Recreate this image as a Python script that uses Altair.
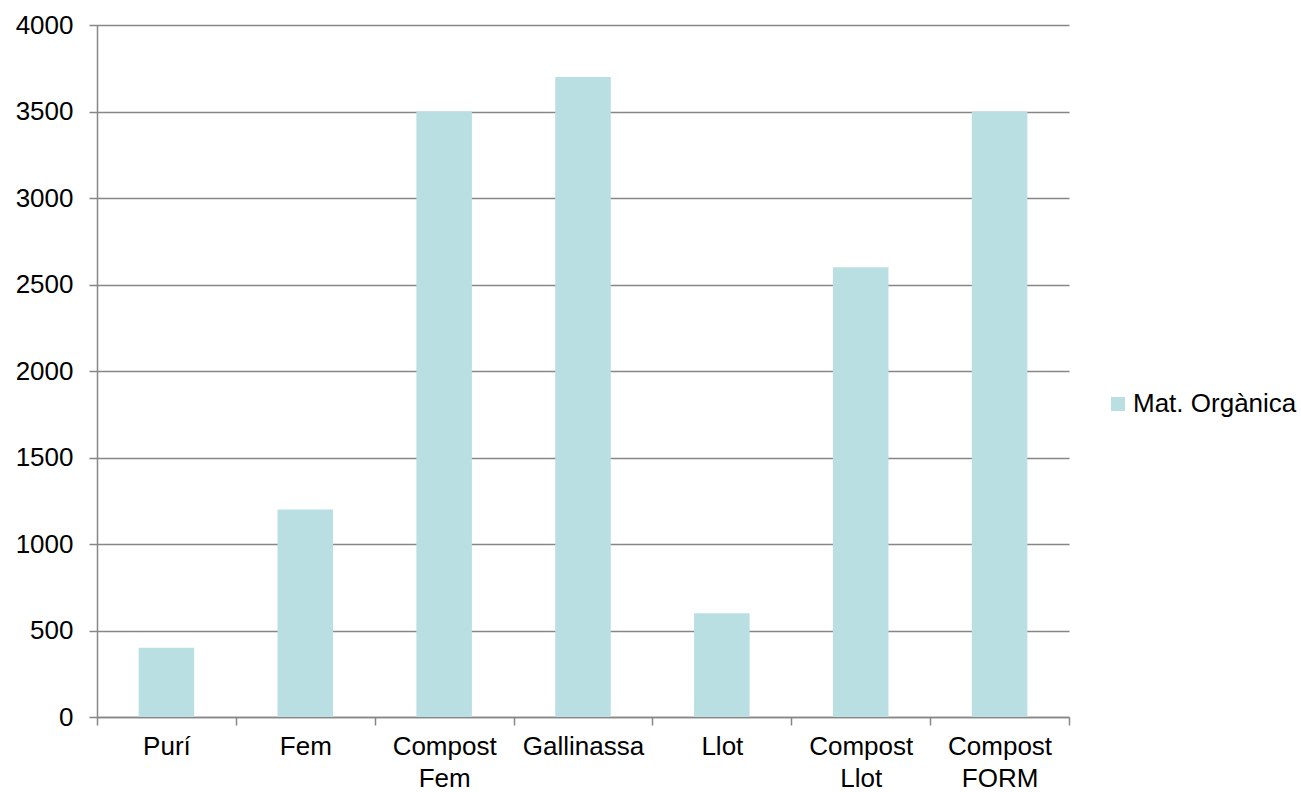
import altair as alt
import pandas as pd

categories = ["Purí", "Fem", "Compost Fem", "Gallinassa", "Llot", "Compost Llot", "Compost FORM"]
values = [400, 1200, 3500, 3700, 600, 2600, 3500]
series_name = "Mat. Orgànica"
y_ticks = [0, 500, 1000, 1500, 2000, 2500, 3000, 3500, 4000]

df = pd.DataFrame({"cat": categories, "val": values, "serie": [series_name] * len(categories)})

GRAY = "#868686"
BAR = "#B9DFE2"
FONT = "Liberation Sans"
FS = 26

chart = alt.Chart(df).mark_bar(color=BAR, width=alt.RelativeBandSize(0.4)).encode(
    x=alt.X(
        "cat:N",
        sort=categories,
        scale=alt.Scale(paddingInner=0, paddingOuter=0),
        axis=alt.Axis(
            title=None,
            labelAngle=0,
            labelExpr="split(datum.label, ' ')",
            labelLineHeight=32,
            labelFont=FONT,
            labelFontSize=FS,
            labelColor="#000000",
            labelPadding=8,
            tickBand="extent",
            tickSize=8,
            tickColor=GRAY,
            domainColor=GRAY,
            tickWidth=1.5,
            domainWidth=1.5,
            grid=False,
        ),
    ),
    y=alt.Y(
        "val:Q",
        scale=alt.Scale(domain=[0, 4000], nice=False),
        axis=alt.Axis(
            title=None,
            values=y_ticks,
            format="d",
            labelFont=FONT,
            labelFontSize=FS,
            labelColor="#000000",
            labelPadding=16,
            tickSize=8,
            tickColor=GRAY,
            domainColor=GRAY,
            gridColor=GRAY,
            tickWidth=1.5,
            domainWidth=1.5,
            gridWidth=1.5,
            grid=True,
        ),
    ),
    color=alt.Color(
        "serie:N",
        scale=alt.Scale(range=[BAR]),
        legend=alt.Legend(
            title=None,
            orient="none",
            legendX=1008,
            legendY=366,
            padding=0,
            symbolType="square",
            symbolSize=196,
            symbolStrokeWidth=0,
            labelFont=FONT,
            labelFontSize=FS,
            labelColor="#000000",
            labelOffset=2,
            labelLimit=0,
        ),
    ),
).properties(
    width=972,
    height=692,
    autosize=alt.AutoSizeParams(type="none"),
    padding={"left": 97, "top": 25, "right": 232, "bottom": 75},
).configure(background="white", view=alt.ViewConfig(stroke=None))

chart.save("out.html", embed_options={"renderer": "svg", "actions": False})
